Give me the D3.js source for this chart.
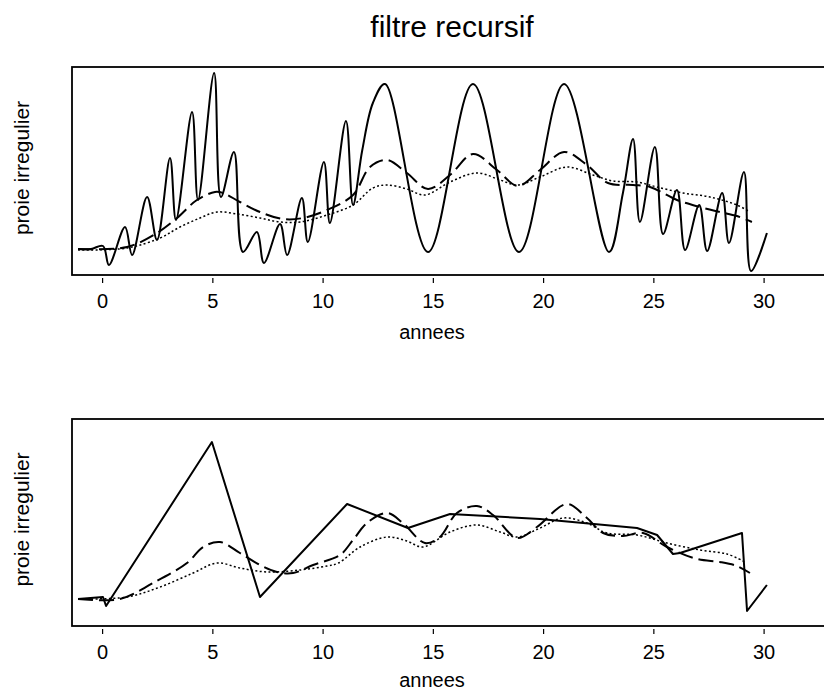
<!DOCTYPE html>
<html>
<head>
<meta charset="utf-8">
<script src="https://cdn.jsdelivr.net/npm/d3@7"></script>
<style>
  body { margin: 0; background: #fff; }
  text { font-family: "Liberation Sans", Arial, Helvetica, sans-serif; fill: #000; }
</style>
</head>
<body>
<svg id="chart" width="824" height="691"></svg>
<script>
// x axis ticks (annees)
const yearTicks = [0, 5, 10, 15, 20, 25, 30];

// Upper panel: irregular prey component [annee, valeur]
const topSeries = [
  [-1.09, 0.5], [-0.5, 0.5], [0.04, 2], [0.31, -7.5], [1.04, 11.5], [1.36, -2.5],
  [2.04, 26.5], [2.49, 5], [3.08, 46], [3.35, 15], [4.08, 69], [4.35, 25],
  [5.08, 88.5], [5.39, 26.5], [5.98, 49], [6.39, -1], [7.02, 9], [7.34, -6.5],
  [8.07, 13], [8.39, -2.5], [9.06, 26], [9.33, 4], [10.06, 44], [10.33, 13.5],
  [11.06, 64.5], [11.38, 22.5], [11.8, 50], [12.28, 73.5], [12.83, 83],
  [14.78, -1], [16.82, 83], [18.91, -1], [20.95, 83], [22.99, -1],
  [23.62, 28.5], [24.08, 55.5], [24.39, 14], [25.07, 51.5], [25.44, 8],
  [26.07, 30], [26.44, 0], [27.08, 22.5], [27.44, -0.5], [28.12, 28.5],
  [28.43, 3.5], [29.11, 39], [29.43, -10.5], [30.15, 8.5]
];

// Upper panel: recursive filter, first pass (dashed)
const topFilterA = [
  [-1.09, 0.5], [1.13, 1.5], [2.49, 8.5], [3.40, 16], [4.30, 25], [5.12, 29],
  [5.49, 28.5], [6.25, 24], [7.16, 19], [8.20, 15.5], [9.11, 16], [10.20, 20],
  [11.38, 27.5], [12.15, 41.5], [12.92, 45], [13.82, 38.5], [14.78, 30.5],
  [15.78, 37.5], [16.82, 48], [17.91, 40], [18.86, 32], [19.86, 40], [20.95, 49],
  [21.99, 42.5], [22.94, 33.5], [24.08, 32.5], [24.85, 31.5], [26.07, 25],
  [27.11, 21.5], [28.02, 19], [28.79, 17], [29.47, 14]
];

// Upper panel: recursive filter, second pass (dotted)
const topFilterB = [
  [-1.09, 0], [1.13, 1], [2.63, 6], [3.53, 11.5], [4.44, 16], [5.21, 19],
  [6.12, 18], [7.16, 16], [8.07, 14], [8.98, 14], [10.20, 17.5], [11.38, 22.5],
  [12.28, 31], [12.92, 32.5], [13.82, 30.5], [14.64, 27.5], [15.78, 34],
  [17.00, 38.5], [18.05, 35], [18.82, 32.5], [19.86, 36.5], [21.08, 41.5],
  [22.26, 37.5], [23.17, 34.5], [24.26, 34], [25.16, 31.5], [26.34, 28.5],
  [27.57, 26.5], [28.79, 22.5], [29.38, 19]
];

// Lower panel: sampled prey component (solid, straight segments)
const bottomSeries = [
  [-1.09, 0.5], [0.04, 1.5], [0.18, -3], [4.98, 79], [7.16, 1.5], [11.11, 48],
  [13.87, 36], [15.78, 43], [19.86, 40.5], [24.26, 36], [25.17, 32.5],
  [25.89, 23], [26.21, 23.5], [29.02, 33.5], [29.25, -5.5], [30.15, 7.5]
];

// Lower panel: recursive filter, first pass (dashed)
const bottomFilterA = [
  [-1.09, 0.5], [0.81, 0.5], [2.31, 8.5], [3.85, 18.5], [4.58, 26.5], [5.35, 29],
  [6.25, 23.5], [7.16, 17.5], [7.93, 14], [8.66, 13.5], [9.57, 17.5], [10.79, 22.5],
  [11.38, 30], [12.01, 38.5], [12.92, 43.5], [13.64, 38.5], [14.64, 28.5],
  [15.32, 31.5], [16.09, 43.5], [17.00, 47], [17.73, 42.5], [18.82, 31],
  [19.72, 36.5], [21.08, 48], [21.99, 41], [22.72, 33.5], [23.62, 32],
  [24.53, 33.5], [25.62, 26.5], [26.98, 20.5], [28.02, 19], [28.79, 17], [29.38, 13.5]
];

// Lower panel: recursive filter, second pass (dotted)
const bottomFilterB = [
  [-1.09, 0.5], [1.13, 1.5], [2.63, 6.5], [4.13, 13.5], [5.21, 18.5], [6.25, 16],
  [7.48, 14], [8.98, 15], [10.20, 17], [10.72, 18.5], [11.70, 26.5], [12.92, 31.5],
  [13.82, 29.5], [14.55, 26.5], [15.78, 34], [17.00, 37.5], [18.05, 34],
  [18.82, 31.5], [19.86, 36], [20.90, 41], [21.99, 38.5], [22.89, 33.5],
  [24.26, 32.5], [25.62, 28.5], [27.11, 25], [28.34, 23], [29.16, 19]
];

const svg = d3.select("#chart");

const x = d3.scaleLinear().domain([0, 30]).range([102.1, 763.6]);
const boxLeft = 72, boxRight = 832;

const styles = {
  solid:  { width: 2, dash: null },
  dashed: { width: 2, dash: "15,6" },
  dotted: { width: 1.5, dash: "2,2.4" }
};

const panels = [
  {
    top: 67, bottom: 275, yDomain: [-12.5, 91.5], labelY: 308, titleY: 339,
    series: [
      { data: topSeries, style: "solid", curve: d3.curveCatmullRom.alpha(0.5) },
      { data: topFilterA, style: "dashed", curve: d3.curveCatmullRom.alpha(0.5) },
      { data: topFilterB, style: "dotted", curve: d3.curveCatmullRom.alpha(0.5) }
    ]
  },
  {
    top: 419, bottom: 626, yDomain: [-13, 90.5], labelY: 659, titleY: 687,
    series: [
      { data: bottomSeries, style: "solid", curve: d3.curveLinear },
      { data: bottomFilterA, style: "dashed", curve: d3.curveCatmullRom.alpha(0.5) },
      { data: bottomFilterB, style: "dotted", curve: d3.curveCatmullRom.alpha(0.5) }
    ]
  }
];

svg.append("text")
  .attr("x", 452).attr("y", 37)
  .attr("text-anchor", "middle")
  .style("font-size", "30px")
  .text("filtre recursif");

panels.forEach(p => {
  const y = d3.scaleLinear().domain(p.yDomain).range([p.bottom, p.top]);
  const g = svg.append("g");

  // frame
  g.append("rect")
    .attr("x", boxLeft).attr("y", p.top)
    .attr("width", boxRight - boxLeft).attr("height", p.bottom - p.top)
    .attr("fill", "none").attr("stroke", "#000").attr("stroke-width", 1.8);

  // x axis: ticks set slightly below the frame
  const axis = d3.axisBottom(x).tickValues(yearTicks).tickSize(5).tickPadding(14);
  const ax = g.append("g")
    .attr("transform", `translate(0,${p.bottom + 3})`)
    .call(axis);
  ax.select(".domain").remove();
  ax.selectAll(".tick line").attr("stroke", "#000").attr("stroke-width", 1.2);
  ax.selectAll(".tick text")
    .attr("y", null).attr("dy", null)
    .attr("transform", `translate(0,${p.labelY - p.bottom - 3})`)
    .style("font-size", "20px")
    .style("font-family", "'Liberation Sans', Arial, sans-serif")
    .attr("fill", "#000");

  g.append("text")
    .attr("x", 432).attr("y", p.titleY)
    .attr("text-anchor", "middle")
    .style("font-size", "20px")
    .text("annees");

  g.append("text")
    .attr("transform", `translate(29,${(p.top + p.bottom) / 2 - 3}) rotate(-90)`)
    .attr("text-anchor", "middle")
    .style("font-size", "21px")
    .text("proie irregulier");

  p.series.forEach(s => {
    const st = styles[s.style];
    const line = d3.line()
      .x(d => x(d[0]))
      .y(d => y(d[1]))
      .curve(s.curve);
    g.append("path")
      .datum(s.data)
      .attr("d", line)
      .attr("fill", "none")
      .attr("stroke", "#000")
      .attr("stroke-width", st.width)
      .attr("stroke-linejoin", "round")
      .attr("stroke-dasharray", st.dash);
  });
});
</script>
</body>
</html>
